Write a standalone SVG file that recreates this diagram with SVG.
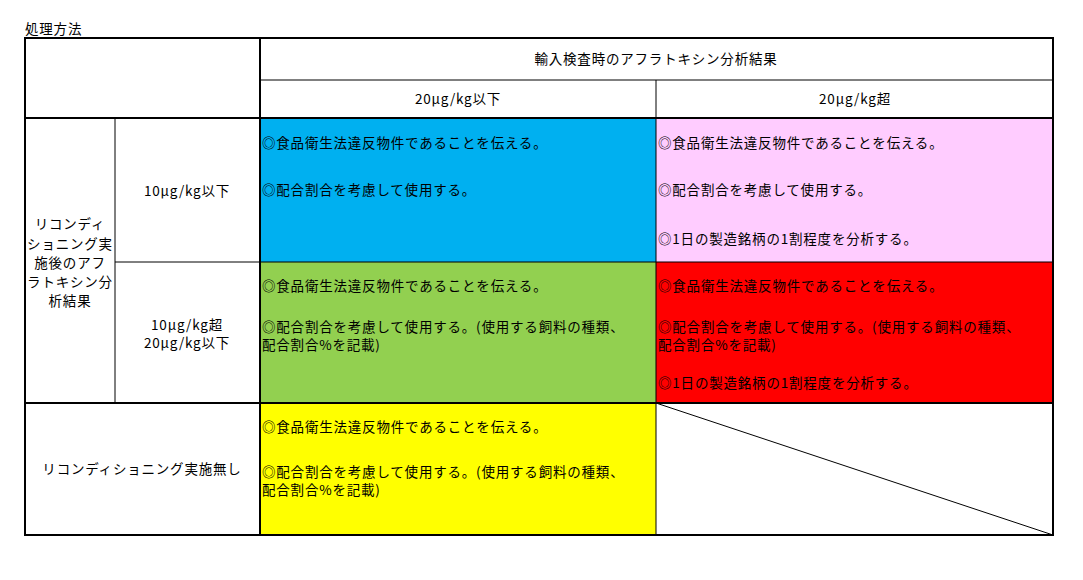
<svg xmlns="http://www.w3.org/2000/svg" width="1083" height="580" viewBox="0 0 1083 580">
<style>
text{font-family:"Noto Sans CJK JP","Liberation Sans",sans-serif;font-size:13.5px;letter-spacing:0.8px;fill:#000}
.c{text-anchor:middle}
.l{stroke:#000;stroke-width:1;fill:none}
.b{stroke:#000;stroke-width:2;fill:none}
</style>
<rect width="1083" height="580" fill="#fff"/>
<text x="25" y="34">処理方法</text>
<g id="cells">
<rect id="blue" x="260" y="118" width="396" height="144" fill="#00B0F0"/>
<rect id="pink" x="656" y="118" width="397" height="144" fill="#FFCCFF"/>
<rect id="green" x="260" y="262" width="396" height="141" fill="#92D050"/>
<rect id="red" x="656" y="262" width="397" height="141" fill="#FF0000"/>
<rect id="yellow" x="260" y="403" width="396" height="132" fill="#FFFF00"/>
</g>
<g id="connectors">
<line class="l" x1="260" y1="80" x2="1053" y2="80"/>
<line class="l" x1="656" y1="80" x2="656" y2="535"/>
<line class="l" x1="115" y1="118" x2="115" y2="403"/>
<line class="l" x1="115" y1="262" x2="1053" y2="262"/>
<line class="l" x1="656" y1="403" x2="1053" y2="535"/>
<line class="b" x1="25" y1="118" x2="1053" y2="118"/>
<line class="b" x1="25" y1="403" x2="1053" y2="403"/>
<line class="b" x1="260" y1="38" x2="260" y2="535"/>
<rect class="b" x="25" y="38" width="1028" height="497"/>
</g>
<g id="headers">
<text class="c" x="656" y="64">輸入検査時のアフラトキシン分析結果</text>
<text class="c" x="458" y="104">20μg/kg以下</text>
<text class="c" x="855" y="104">20μg/kg超</text>
<text class="c" x="187" y="196">10μg/kg以下</text>
<text class="c" x="187" y="330">10μg/kg超</text>
<text class="c" x="187" y="348">20μg/kg以下</text>
<text class="c" x="70" y="229">リコンディ</text>
<text class="c" x="70" y="249">ショニング実</text>
<text class="c" x="70" y="268">施後のアフ</text>
<text class="c" x="70" y="287">ラトキシン分</text>
<text class="c" x="70" y="306">析結果</text>
<text class="c" x="142" y="474">リコンディショニング実施無し</text>
</g>
<g id="content">
<text x="262" y="148">◎食品衛生法違反物件であることを伝える。</text>
<text x="262" y="195">◎配合割合を考慮して使用する。</text>
<text x="658" y="148">◎食品衛生法違反物件であることを伝える。</text>
<text x="658" y="195">◎配合割合を考慮して使用する。</text>
<text x="658" y="244">◎1日の製造銘柄の1割程度を分析する。</text>
<text x="262" y="291">◎食品衛生法違反物件であることを伝える。</text>
<text x="262" y="332">◎配合割合を考慮して使用する。(使用する飼料の種類、</text>
<text x="262" y="350">配合割合%を記載)</text>
<text x="658" y="291">◎食品衛生法違反物件であることを伝える。</text>
<text x="658" y="332">◎配合割合を考慮して使用する。(使用する飼料の種類、</text>
<text x="658" y="350">配合割合%を記載)</text>
<text x="658" y="388">◎1日の製造銘柄の1割程度を分析する。</text>
<text x="262" y="432">◎食品衛生法違反物件であることを伝える。</text>
<text x="262" y="477">◎配合割合を考慮して使用する。(使用する飼料の種類、</text>
<text x="262" y="495">配合割合%を記載)</text>
</g>
</svg>
